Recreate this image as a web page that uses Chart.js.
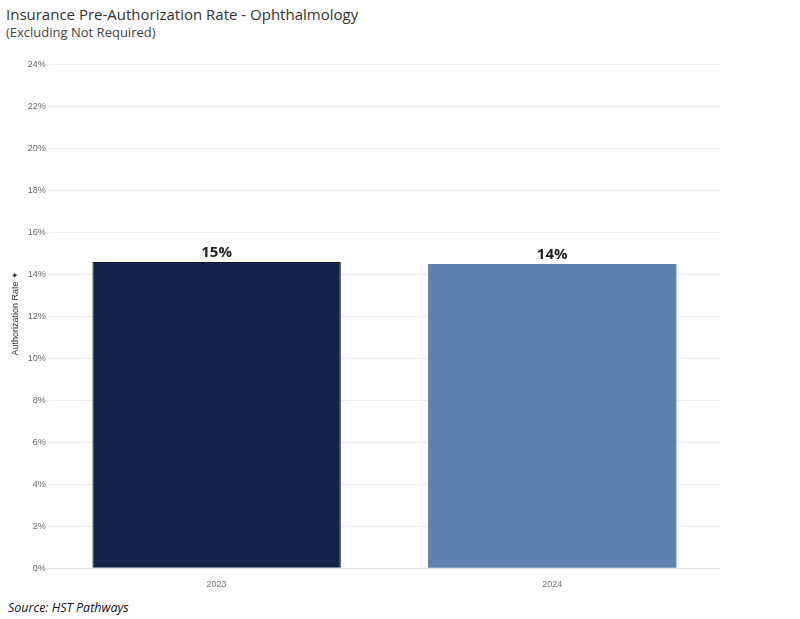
<!DOCTYPE html>
<html><head><meta charset="utf-8">
<script src="https://cdn.jsdelivr.net/npm/chart.js@4"></script>
<style>
body{margin:0;background:#fff;font-family:"Open Sans",sans-serif;}
#t{position:absolute;left:6px;top:4px;font-size:15px;color:#333;}
#s{position:absolute;left:6px;top:23px;font-size:13px;color:#444;}
#src{position:absolute;left:8px;top:599px;font-size:12.5px;font-style:italic;color:#111;}
#w{position:absolute;left:0;top:50px;width:720px;height:543px;}
</style></head><body>
<div id="t">Insurance Pre-Authorization Rate - Ophthalmology</div>
<div id="s">(Excluding Not Required)</div>
<div id="w"><canvas id="c"></canvas></div>
<div id="src">Source: HST Pathways</div>
<script>
const categories=["2023","2024"];
const values=[14.6,14.5];
const labels=["15%","14%"];
const colors=["#16234b","#6082b0"];
const lbl={id:'lbl',afterDatasetsDraw(ch){const c=ch.ctx;ch.getDatasetMeta(0).data.forEach((b,i)=>{c.save();c.font='bold 15px "Open Sans"';c.fillStyle='#222';c.textAlign='center';c.textBaseline='bottom';c.fillText(labels[i],b.x,b.y-2);c.restore();});}};
new Chart(document.getElementById('c'),{type:'bar',
data:{labels:categories,datasets:[{data:values,backgroundColor:colors,borderColor:'#111',borderWidth:[1,0],barPercentage:0.74,categoryPercentage:1}]},
options:{responsive:true,maintainAspectRatio:false,animation:false,
layout:{padding:{top:7,left:6}},
plugins:{legend:{display:false},tooltip:{enabled:false}},
scales:{y:{min:0,max:24.3,afterBuildTicks(a){a.ticks=[];for(let v=0;v<=24;v+=2)a.ticks.push({value:v});},
ticks:{callback:v=>v+'%',color:'#666',font:{size:9}},grid:{color:'#eee',drawTicks:false},border:{display:false},
title:{display:true,text:'Authorization Rate ✦',color:'#333',font:{size:9}}},
x:{ticks:{color:'#777',font:{size:9}},grid:{display:false},border:{color:'#ddd'}}}},
plugins:[lbl]});
</script></body></html>
